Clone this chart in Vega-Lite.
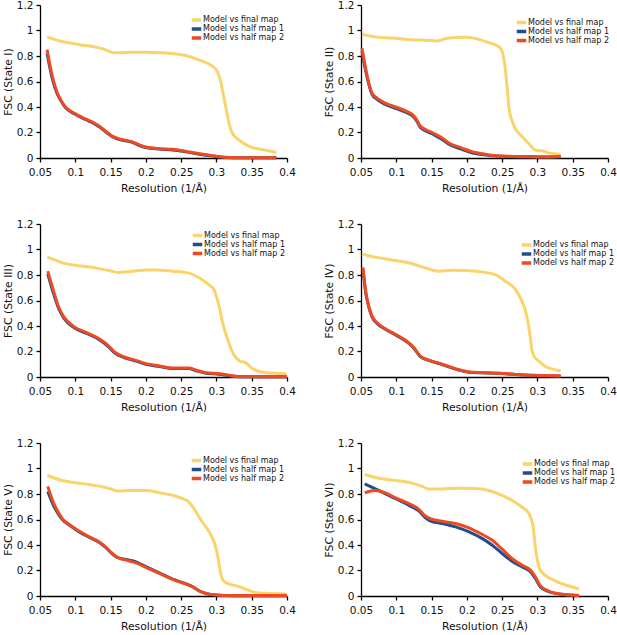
{
"$schema":"https://vega.github.io/schema/vega-lite/v6.json",
"padding":{"left":2,"top":0,"right":0,"bottom":0},
"background":"white",
"columns":2,
"bounds":"flush",
"spacing":{"row":66,"column":74},
"resolve":{"scale":{"color":"independent"}},
"datasets":{
"p1":[
{"s":"final","x":0.06,"y":0.95},{"s":"final","x":0.07,"y":0.93},{"s":"final","x":0.08,"y":0.915},{"s":"final","x":0.09,"y":0.905},{"s":"final","x":0.1,"y":0.895},{"s":"final","x":0.11,"y":0.885},{"s":"final","x":0.12,"y":0.878},{"s":"final","x":0.13,"y":0.868},{"s":"final","x":0.14,"y":0.855},{"s":"final","x":0.15,"y":0.832},{"s":"final","x":0.155,"y":0.825},{"s":"final","x":0.165,"y":0.825},{"s":"final","x":0.18,"y":0.83},{"s":"final","x":0.2,"y":0.83},{"s":"final","x":0.22,"y":0.826},{"s":"final","x":0.24,"y":0.818},{"s":"final","x":0.25,"y":0.81},{"s":"final","x":0.26,"y":0.798},{"s":"final","x":0.27,"y":0.78},{"s":"final","x":0.28,"y":0.76},{"s":"final","x":0.29,"y":0.735},{"s":"final","x":0.3,"y":0.69},{"s":"final","x":0.306,"y":0.6},{"s":"final","x":0.31,"y":0.49},{"s":"final","x":0.314,"y":0.38},{"s":"final","x":0.318,"y":0.27},{"s":"final","x":0.322,"y":0.2},{"s":"final","x":0.332,"y":0.14},{"s":"final","x":0.347,"y":0.09},{"s":"final","x":0.366,"y":0.065},{"s":"final","x":0.385,"y":0.045},
{"s":"half1","x":0.06,"y":0.82},{"s":"half1","x":0.0675,"y":0.62},{"s":"half1","x":0.0746,"y":0.5},{"s":"half1","x":0.079,"y":0.455},{"s":"half1","x":0.086,"y":0.395},{"s":"half1","x":0.099,"y":0.345},{"s":"half1","x":0.115,"y":0.3},{"s":"half1","x":0.125,"y":0.275},{"s":"half1","x":0.134,"y":0.245},{"s":"half1","x":0.143,"y":0.205},{"s":"half1","x":0.153,"y":0.166},{"s":"half1","x":0.162,"y":0.146},{"s":"half1","x":0.179,"y":0.126},{"s":"half1","x":0.19,"y":0.1},{"s":"half1","x":0.2,"y":0.082},{"s":"half1","x":0.219,"y":0.07},{"s":"half1","x":0.238,"y":0.063},{"s":"half1","x":0.257,"y":0.048},{"s":"half1","x":0.276,"y":0.03},{"s":"half1","x":0.295,"y":0.015},{"s":"half1","x":0.313,"y":0.003},{"s":"half1","x":0.33,"y":0.001},{"s":"half1","x":0.385,"y":0.001},
{"s":"half2","x":0.06,"y":0.85},{"s":"half2","x":0.0675,"y":0.64},{"s":"half2","x":0.0746,"y":0.51},{"s":"half2","x":0.079,"y":0.46},{"s":"half2","x":0.086,"y":0.4},{"s":"half2","x":0.099,"y":0.35},{"s":"half2","x":0.115,"y":0.305},{"s":"half2","x":0.125,"y":0.28},{"s":"half2","x":0.134,"y":0.25},{"s":"half2","x":0.143,"y":0.21},{"s":"half2","x":0.153,"y":0.17},{"s":"half2","x":0.162,"y":0.15},{"s":"half2","x":0.179,"y":0.13},{"s":"half2","x":0.19,"y":0.105},{"s":"half2","x":0.2,"y":0.086},{"s":"half2","x":0.219,"y":0.073},{"s":"half2","x":0.238,"y":0.068},{"s":"half2","x":0.257,"y":0.052},{"s":"half2","x":0.276,"y":0.034},{"s":"half2","x":0.295,"y":0.018},{"s":"half2","x":0.313,"y":0.005},{"s":"half2","x":0.33,"y":0.002},{"s":"half2","x":0.385,"y":0.002}
],
"p2":[
{"s":"final","x":0.0514,"y":0.97},{"s":"final","x":0.06,"y":0.96},{"s":"final","x":0.07,"y":0.95},{"s":"final","x":0.085,"y":0.943},{"s":"final","x":0.099,"y":0.94},{"s":"final","x":0.113,"y":0.932},{"s":"final","x":0.127,"y":0.926},{"s":"final","x":0.14,"y":0.924},{"s":"final","x":0.158,"y":0.918},{"s":"final","x":0.164,"y":0.925},{"s":"final","x":0.17,"y":0.937},{"s":"final","x":0.185,"y":0.945},{"s":"final","x":0.198,"y":0.947},{"s":"final","x":0.208,"y":0.942},{"s":"final","x":0.217,"y":0.93},{"s":"final","x":0.231,"y":0.905},{"s":"final","x":0.245,"y":0.874},{"s":"final","x":0.25,"y":0.835},{"s":"final","x":0.254,"y":0.72},{"s":"final","x":0.257,"y":0.56},{"s":"final","x":0.26,"y":0.38},{"s":"final","x":0.267,"y":0.25},{"s":"final","x":0.278,"y":0.17},{"s":"final","x":0.29,"y":0.1},{"s":"final","x":0.297,"y":0.062},{"s":"final","x":0.307,"y":0.057},{"s":"final","x":0.316,"y":0.04},{"s":"final","x":0.333,"y":0.03},
{"s":"half1","x":0.0514,"y":0.84},{"s":"half1","x":0.056,"y":0.7},{"s":"half1","x":0.061,"y":0.58},{"s":"half1","x":0.0656,"y":0.5},{"s":"half1","x":0.0727,"y":0.46},{"s":"half1","x":0.0845,"y":0.42},{"s":"half1","x":0.099,"y":0.39},{"s":"half1","x":0.115,"y":0.355},{"s":"half1","x":0.125,"y":0.32},{"s":"half1","x":0.13,"y":0.28},{"s":"half1","x":0.134,"y":0.24},{"s":"half1","x":0.151,"y":0.19},{"s":"half1","x":0.165,"y":0.145},{"s":"half1","x":0.174,"y":0.11},{"s":"half1","x":0.193,"y":0.068},{"s":"half1","x":0.207,"y":0.04},{"s":"half1","x":0.222,"y":0.027},{"s":"half1","x":0.241,"y":0.015},{"s":"half1","x":0.26,"y":0.011},{"s":"half1","x":0.283,"y":0.01},{"s":"half1","x":0.307,"y":0.008},{"s":"half1","x":0.333,"y":0.01},
{"s":"half2","x":0.0514,"y":0.86},{"s":"half2","x":0.056,"y":0.72},{"s":"half2","x":0.061,"y":0.59},{"s":"half2","x":0.0656,"y":0.51},{"s":"half2","x":0.0727,"y":0.47},{"s":"half2","x":0.0845,"y":0.43},{"s":"half2","x":0.099,"y":0.4},{"s":"half2","x":0.115,"y":0.365},{"s":"half2","x":0.125,"y":0.33},{"s":"half2","x":0.13,"y":0.29},{"s":"half2","x":0.134,"y":0.25},{"s":"half2","x":0.151,"y":0.2},{"s":"half2","x":0.165,"y":0.157},{"s":"half2","x":0.174,"y":0.12},{"s":"half2","x":0.193,"y":0.078},{"s":"half2","x":0.207,"y":0.05},{"s":"half2","x":0.222,"y":0.033},{"s":"half2","x":0.241,"y":0.018},{"s":"half2","x":0.26,"y":0.013},{"s":"half2","x":0.283,"y":0.01},{"s":"half2","x":0.307,"y":0.008},{"s":"half2","x":0.333,"y":0.012}
],
"p3":[
{"s":"final","x":0.0604,"y":0.94},{"s":"final","x":0.07,"y":0.92},{"s":"final","x":0.0817,"y":0.895},{"s":"final","x":0.1,"y":0.876},{"s":"final","x":0.12,"y":0.862},{"s":"final","x":0.134,"y":0.85},{"s":"final","x":0.148,"y":0.835},{"s":"final","x":0.16,"y":0.82},{"s":"final","x":0.181,"y":0.83},{"s":"final","x":0.2,"y":0.84},{"s":"final","x":0.214,"y":0.84},{"s":"final","x":0.238,"y":0.83},{"s":"final","x":0.261,"y":0.815},{"s":"final","x":0.276,"y":0.776},{"s":"final","x":0.29,"y":0.72},{"s":"final","x":0.297,"y":0.68},{"s":"final","x":0.304,"y":0.55},{"s":"final","x":0.309,"y":0.42},{"s":"final","x":0.318,"y":0.26},{"s":"final","x":0.325,"y":0.17},{"s":"final","x":0.332,"y":0.13},{"s":"final","x":0.342,"y":0.11},{"s":"final","x":0.351,"y":0.066},{"s":"final","x":0.37,"y":0.034},{"s":"final","x":0.399,"y":0.026},
{"s":"half1","x":0.061,"y":0.81},{"s":"half1","x":0.07,"y":0.64},{"s":"half1","x":0.077,"y":0.53},{"s":"half1","x":0.084,"y":0.46},{"s":"half1","x":0.098,"y":0.388},{"s":"half1","x":0.115,"y":0.343},{"s":"half1","x":0.134,"y":0.293},{"s":"half1","x":0.146,"y":0.243},{"s":"half1","x":0.157,"y":0.183},{"s":"half1","x":0.169,"y":0.152},{"s":"half1","x":0.186,"y":0.125},{"s":"half1","x":0.2,"y":0.1},{"s":"half1","x":0.219,"y":0.082},{"s":"half1","x":0.238,"y":0.066},{"s":"half1","x":0.261,"y":0.066},{"s":"half1","x":0.271,"y":0.049},{"s":"half1","x":0.285,"y":0.03},{"s":"half1","x":0.304,"y":0.022},{"s":"half1","x":0.318,"y":0.01},{"s":"half1","x":0.332,"y":0.002},{"s":"half1","x":0.36,"y":0.001},{"s":"half1","x":0.4,"y":0.001},
{"s":"half2","x":0.061,"y":0.83},{"s":"half2","x":0.07,"y":0.66},{"s":"half2","x":0.077,"y":0.54},{"s":"half2","x":0.084,"y":0.47},{"s":"half2","x":0.098,"y":0.395},{"s":"half2","x":0.115,"y":0.35},{"s":"half2","x":0.134,"y":0.3},{"s":"half2","x":0.146,"y":0.25},{"s":"half2","x":0.157,"y":0.19},{"s":"half2","x":0.169,"y":0.158},{"s":"half2","x":0.186,"y":0.13},{"s":"half2","x":0.2,"y":0.105},{"s":"half2","x":0.219,"y":0.087},{"s":"half2","x":0.238,"y":0.071},{"s":"half2","x":0.261,"y":0.071},{"s":"half2","x":0.271,"y":0.053},{"s":"half2","x":0.285,"y":0.034},{"s":"half2","x":0.304,"y":0.026},{"s":"half2","x":0.318,"y":0.013},{"s":"half2","x":0.332,"y":0.003},{"s":"half2","x":0.36,"y":0.002},{"s":"half2","x":0.4,"y":0.002}
],
"p4":[
{"s":"final","x":0.0514,"y":0.965},{"s":"final","x":0.07,"y":0.94},{"s":"final","x":0.085,"y":0.925},{"s":"final","x":0.099,"y":0.913},{"s":"final","x":0.122,"y":0.89},{"s":"final","x":0.141,"y":0.856},{"s":"final","x":0.16,"y":0.83},{"s":"final","x":0.179,"y":0.837},{"s":"final","x":0.198,"y":0.835},{"s":"final","x":0.217,"y":0.827},{"s":"final","x":0.243,"y":0.796},{"s":"final","x":0.255,"y":0.75},{"s":"final","x":0.269,"y":0.686},{"s":"final","x":0.278,"y":0.595},{"s":"final","x":0.285,"y":0.477},{"s":"final","x":0.289,"y":0.347},{"s":"final","x":0.292,"y":0.217},{"s":"final","x":0.295,"y":0.164},{"s":"final","x":0.302,"y":0.125},{"s":"final","x":0.312,"y":0.08},{"s":"final","x":0.323,"y":0.06},{"s":"final","x":0.333,"y":0.047},
{"s":"half1","x":0.0528,"y":0.84},{"s":"half1","x":0.057,"y":0.65},{"s":"half1","x":0.061,"y":0.55},{"s":"half1","x":0.0656,"y":0.472},{"s":"half1","x":0.0727,"y":0.42},{"s":"half1","x":0.0845,"y":0.374},{"s":"half1","x":0.099,"y":0.33},{"s":"half1","x":0.115,"y":0.276},{"s":"half1","x":0.125,"y":0.226},{"s":"half1","x":0.134,"y":0.16},{"s":"half1","x":0.146,"y":0.13},{"s":"half1","x":0.165,"y":0.097},{"s":"half1","x":0.184,"y":0.062},{"s":"half1","x":0.203,"y":0.038},{"s":"half1","x":0.222,"y":0.033},{"s":"half1","x":0.245,"y":0.029},{"s":"half1","x":0.269,"y":0.019},{"s":"half1","x":0.297,"y":0.012},{"s":"half1","x":0.333,"y":0.007},
{"s":"half2","x":0.0528,"y":0.86},{"s":"half2","x":0.057,"y":0.66},{"s":"half2","x":0.061,"y":0.556},{"s":"half2","x":0.0656,"y":0.477},{"s":"half2","x":0.0727,"y":0.425},{"s":"half2","x":0.0845,"y":0.378},{"s":"half2","x":0.099,"y":0.334},{"s":"half2","x":0.115,"y":0.28},{"s":"half2","x":0.125,"y":0.23},{"s":"half2","x":0.134,"y":0.164},{"s":"half2","x":0.146,"y":0.133},{"s":"half2","x":0.165,"y":0.1},{"s":"half2","x":0.184,"y":0.065},{"s":"half2","x":0.203,"y":0.04},{"s":"half2","x":0.222,"y":0.034},{"s":"half2","x":0.245,"y":0.03},{"s":"half2","x":0.269,"y":0.02},{"s":"half2","x":0.297,"y":0.013},{"s":"half2","x":0.333,"y":0.008}
],
"p5":[
{"s":"final","x":0.0604,"y":0.945},{"s":"final","x":0.0817,"y":0.906},{"s":"final","x":0.1,"y":0.888},{"s":"final","x":0.12,"y":0.875},{"s":"final","x":0.134,"y":0.862},{"s":"final","x":0.15,"y":0.84},{"s":"final","x":0.16,"y":0.823},{"s":"final","x":0.181,"y":0.828},{"s":"final","x":0.2,"y":0.828},{"s":"final","x":0.219,"y":0.81},{"s":"final","x":0.238,"y":0.79},{"s":"final","x":0.252,"y":0.763},{"s":"final","x":0.261,"y":0.737},{"s":"final","x":0.271,"y":0.66},{"s":"final","x":0.28,"y":0.58},{"s":"final","x":0.29,"y":0.5},{"s":"final","x":0.297,"y":0.42},{"s":"final","x":0.302,"y":0.31},{"s":"final","x":0.306,"y":0.177},{"s":"final","x":0.311,"y":0.112},{"s":"final","x":0.318,"y":0.094},{"s":"final","x":0.332,"y":0.073},{"s":"final","x":0.347,"y":0.042},{"s":"final","x":0.356,"y":0.026},{"s":"final","x":0.37,"y":0.021},{"s":"final","x":0.399,"y":0.016},
{"s":"half1","x":0.061,"y":0.82},{"s":"half1","x":0.07,"y":0.7},{"s":"half1","x":0.077,"y":0.635},{"s":"half1","x":0.0817,"y":0.6},{"s":"half1","x":0.091,"y":0.558},{"s":"half1","x":0.105,"y":0.505},{"s":"half1","x":0.12,"y":0.46},{"s":"half1","x":0.134,"y":0.42},{"s":"half1","x":0.143,"y":0.381},{"s":"half1","x":0.15,"y":0.343},{"s":"half1","x":0.16,"y":0.302},{"s":"half1","x":0.172,"y":0.286},{"s":"half1","x":0.186,"y":0.268},{"s":"half1","x":0.2,"y":0.23},{"s":"half1","x":0.219,"y":0.182},{"s":"half1","x":0.238,"y":0.133},{"s":"half1","x":0.257,"y":0.095},{"s":"half1","x":0.266,"y":0.074},{"s":"half1","x":0.276,"y":0.039},{"s":"half1","x":0.285,"y":0.02},{"s":"half1","x":0.299,"y":0.007},{"s":"half1","x":0.323,"y":0.002},{"s":"half1","x":0.4,"y":0.002},
{"s":"half2","x":0.061,"y":0.86},{"s":"half2","x":0.07,"y":0.72},{"s":"half2","x":0.077,"y":0.646},{"s":"half2","x":0.0817,"y":0.607},{"s":"half2","x":0.091,"y":0.563},{"s":"half2","x":0.105,"y":0.51},{"s":"half2","x":0.12,"y":0.464},{"s":"half2","x":0.134,"y":0.424},{"s":"half2","x":0.143,"y":0.385},{"s":"half2","x":0.15,"y":0.346},{"s":"half2","x":0.16,"y":0.302},{"s":"half2","x":0.172,"y":0.281},{"s":"half2","x":0.186,"y":0.26},{"s":"half2","x":0.2,"y":0.224},{"s":"half2","x":0.219,"y":0.177},{"s":"half2","x":0.238,"y":0.13},{"s":"half2","x":0.257,"y":0.094},{"s":"half2","x":0.266,"y":0.073},{"s":"half2","x":0.276,"y":0.039},{"s":"half2","x":0.285,"y":0.021},{"s":"half2","x":0.299,"y":0.008},{"s":"half2","x":0.323,"y":0.003},{"s":"half2","x":0.4,"y":0.003}
],
"p6":[
{"s":"final","x":0.0552,"y":0.953},{"s":"final","x":0.075,"y":0.924},{"s":"final","x":0.099,"y":0.906},{"s":"final","x":0.122,"y":0.885},{"s":"final","x":0.137,"y":0.86},{"s":"final","x":0.146,"y":0.84},{"s":"final","x":0.165,"y":0.84},{"s":"final","x":0.189,"y":0.846},{"s":"final","x":0.212,"y":0.844},{"s":"final","x":0.231,"y":0.828},{"s":"final","x":0.25,"y":0.79},{"s":"final","x":0.264,"y":0.75},{"s":"final","x":0.278,"y":0.698},{"s":"final","x":0.288,"y":0.646},{"s":"final","x":0.294,"y":0.54},{"s":"final","x":0.297,"y":0.385},{"s":"final","x":0.301,"y":0.255},{"s":"final","x":0.304,"y":0.203},{"s":"final","x":0.314,"y":0.151},{"s":"final","x":0.326,"y":0.117},{"s":"final","x":0.34,"y":0.086},{"s":"final","x":0.359,"y":0.055},
{"s":"half1","x":0.0552,"y":0.88},{"s":"half1","x":0.075,"y":0.828},{"s":"half1","x":0.099,"y":0.763},{"s":"half1","x":0.118,"y":0.711},{"s":"half1","x":0.132,"y":0.667},{"s":"half1","x":0.141,"y":0.615},{"s":"half1","x":0.148,"y":0.589},{"s":"half1","x":0.165,"y":0.568},{"s":"half1","x":0.184,"y":0.542},{"s":"half1","x":0.203,"y":0.503},{"s":"half1","x":0.222,"y":0.45},{"s":"half1","x":0.236,"y":0.398},{"s":"half1","x":0.25,"y":0.333},{"s":"half1","x":0.264,"y":0.273},{"s":"half1","x":0.278,"y":0.229},{"s":"half1","x":0.29,"y":0.19},{"s":"half1","x":0.297,"y":0.138},{"s":"half1","x":0.304,"y":0.073},{"s":"half1","x":0.316,"y":0.034},{"s":"half1","x":0.335,"y":0.013},{"s":"half1","x":0.359,"y":0.003},
{"s":"half2","x":0.0552,"y":0.81},{"s":"half2","x":0.07,"y":0.828},{"s":"half2","x":0.084,"y":0.81},{"s":"half2","x":0.099,"y":0.77},{"s":"half2","x":0.118,"y":0.724},{"s":"half2","x":0.132,"y":0.68},{"s":"half2","x":0.141,"y":0.628},{"s":"half2","x":0.148,"y":0.607},{"s":"half2","x":0.165,"y":0.586},{"s":"half2","x":0.184,"y":0.568},{"s":"half2","x":0.203,"y":0.534},{"s":"half2","x":0.222,"y":0.482},{"s":"half2","x":0.236,"y":0.437},{"s":"half2","x":0.25,"y":0.367},{"s":"half2","x":0.264,"y":0.294},{"s":"half2","x":0.278,"y":0.242},{"s":"half2","x":0.29,"y":0.203},{"s":"half2","x":0.297,"y":0.151},{"s":"half2","x":0.304,"y":0.081},{"s":"half2","x":0.316,"y":0.039},{"s":"half2","x":0.335,"y":0.013},{"s":"half2","x":0.359,"y":0.003}
]
},
"concat":[
{"data":{"name":"p1"},"width":247,"height":153,"mark":{"type":"line","strokeWidth":3,"interpolate":"monotone"},
"encoding":{"x":{"field":"x","type":"quantitative","scale":{"domain":[0.05,0.4],"nice":false,"zero":false},"axis":{"values":[0.05,0.1,0.15,0.2,0.25,0.3,0.35,0.4],"format":"~g","title":"Resolution (1/Å)"}},
"y":{"field":"y","type":"quantitative","scale":{"domain":[0,1.2],"nice":false},"axis":{"values":[0,0.2,0.4,0.6,0.8,1,1.2],"format":"~g","title":"FSC (State I)"}},
"color":{"field":"s","type":"nominal","scale":{"domain":["final","half1","half2"],"range":["#FAD36A","#1F4E8C","#EE4A22"]},"legend":{"legendX":150,"legendY":11.5,"labelExpr":"datum.label == 'final' ? 'Model vs final map' : datum.label == 'half1' ? 'Model vs half map 1' : 'Model vs half map 2'"}}}},
{"data":{"name":"p2"},"width":247,"height":153,"mark":{"type":"line","strokeWidth":3,"interpolate":"monotone"},
"encoding":{"x":{"field":"x","type":"quantitative","scale":{"domain":[0.05,0.4],"nice":false,"zero":false},"axis":{"values":[0.05,0.1,0.15,0.2,0.25,0.3,0.35,0.4],"format":"~g","title":"Resolution (1/Å)"}},
"y":{"field":"y","type":"quantitative","scale":{"domain":[0,1.2],"nice":false},"axis":{"values":[0,0.2,0.4,0.6,0.8,1,1.2],"format":"~g","title":"FSC (State II)"}},
"color":{"field":"s","type":"nominal","scale":{"domain":["final","half1","half2"],"range":["#FAD36A","#1F4E8C","#EE4A22"]},"legend":{"legendX":154,"legendY":14,"labelExpr":"datum.label == 'final' ? 'Model vs final map' : datum.label == 'half1' ? 'Model vs half map 1' : 'Model vs half map 2'"}}}},
{"data":{"name":"p3"},"width":247,"height":153,"mark":{"type":"line","strokeWidth":3,"interpolate":"monotone"},
"encoding":{"x":{"field":"x","type":"quantitative","scale":{"domain":[0.05,0.4],"nice":false,"zero":false},"axis":{"values":[0.05,0.1,0.15,0.2,0.25,0.3,0.35,0.4],"format":"~g","title":"Resolution (1/Å)"}},
"y":{"field":"y","type":"quantitative","scale":{"domain":[0,1.2],"nice":false},"axis":{"values":[0,0.2,0.4,0.6,0.8,1,1.2],"format":"~g","title":"FSC (State III)"}},
"color":{"field":"s","type":"nominal","scale":{"domain":["final","half1","half2"],"range":["#FAD36A","#1F4E8C","#EE4A22"]},"legend":{"legendX":151,"legendY":8,"labelExpr":"datum.label == 'final' ? 'Model vs final map' : datum.label == 'half1' ? 'Model vs half map 1' : 'Model vs half map 2'"}}}},
{"data":{"name":"p4"},"width":247,"height":153,"mark":{"type":"line","strokeWidth":3,"interpolate":"monotone"},
"encoding":{"x":{"field":"x","type":"quantitative","scale":{"domain":[0.05,0.4],"nice":false,"zero":false},"axis":{"values":[0.05,0.1,0.15,0.2,0.25,0.3,0.35,0.4],"format":"~g","title":"Resolution (1/Å)"}},
"y":{"field":"y","type":"quantitative","scale":{"domain":[0,1.2],"nice":false},"axis":{"values":[0,0.2,0.4,0.6,0.8,1,1.2],"format":"~g","title":"FSC (State IV)"}},
"color":{"field":"s","type":"nominal","scale":{"domain":["final","half1","half2"],"range":["#FAD36A","#1F4E8C","#EE4A22"]},"legend":{"legendX":159,"legendY":17.5,"labelExpr":"datum.label == 'final' ? 'Model vs final map' : datum.label == 'half1' ? 'Model vs half map 1' : 'Model vs half map 2'"}}}},
{"data":{"name":"p5"},"width":247,"height":153,"mark":{"type":"line","strokeWidth":3,"interpolate":"monotone"},
"encoding":{"x":{"field":"x","type":"quantitative","scale":{"domain":[0.05,0.4],"nice":false,"zero":false},"axis":{"values":[0.05,0.1,0.15,0.2,0.25,0.3,0.35,0.4],"format":"~g","title":"Resolution (1/Å)"}},
"y":{"field":"y","type":"quantitative","scale":{"domain":[0,1.2],"nice":false},"axis":{"values":[0,0.2,0.4,0.6,0.8,1,1.2],"format":"~g","title":"FSC (State V)"}},
"color":{"field":"s","type":"nominal","scale":{"domain":["final","half1","half2"],"range":["#FAD36A","#1F4E8C","#EE4A22"]},"legend":{"legendX":150,"legendY":14,"labelExpr":"datum.label == 'final' ? 'Model vs final map' : datum.label == 'half1' ? 'Model vs half map 1' : 'Model vs half map 2'"}}}},
{"data":{"name":"p6"},"width":247,"height":153,"mark":{"type":"line","strokeWidth":3,"interpolate":"monotone"},
"encoding":{"x":{"field":"x","type":"quantitative","scale":{"domain":[0.05,0.4],"nice":false,"zero":false},"axis":{"values":[0.05,0.1,0.15,0.2,0.25,0.3,0.35,0.4],"format":"~g","title":"Resolution (1/Å)"}},
"y":{"field":"y","type":"quantitative","scale":{"domain":[0,1.2],"nice":false},"axis":{"values":[0,0.2,0.4,0.6,0.8,1,1.2],"format":"~g","title":"FSC (State VI)"}},
"color":{"field":"s","type":"nominal","scale":{"domain":["final","half1","half2"],"range":["#FAD36A","#1F4E8C","#EE4A22"]},"legend":{"legendX":160,"legendY":17.5,"labelExpr":"datum.label == 'final' ? 'Model vs final map' : datum.label == 'half1' ? 'Model vs half map 1' : 'Model vs half map 2'"}}}}
],
"config":{
"font":"DejaVu Sans",
"view":{"stroke":null},
"axis":{"grid":false,"domainColor":"#000","domainWidth":1.3,"tickColor":"#000","tickWidth":1.3,"tickSize":4,"labelFontSize":10.5,"labelColor":"#111","titleFontSize":10.8,"titleFontWeight":"normal","titleColor":"#111","labelFlush":false},
"axisX":{"labelPadding":5,"titlePadding":5},
"axisY":{"labelPadding":3,"titlePadding":3},
"legend":{"orient":"none","title":null,"labelFontSize":8,"labelColor":"#111","symbolType":"stroke","symbolStrokeWidth":3.5,"symbolSize":90,"clipHeight":7,"rowPadding":0,"labelOffset":0,"padding":0,"labelLimit":200}
}
}
